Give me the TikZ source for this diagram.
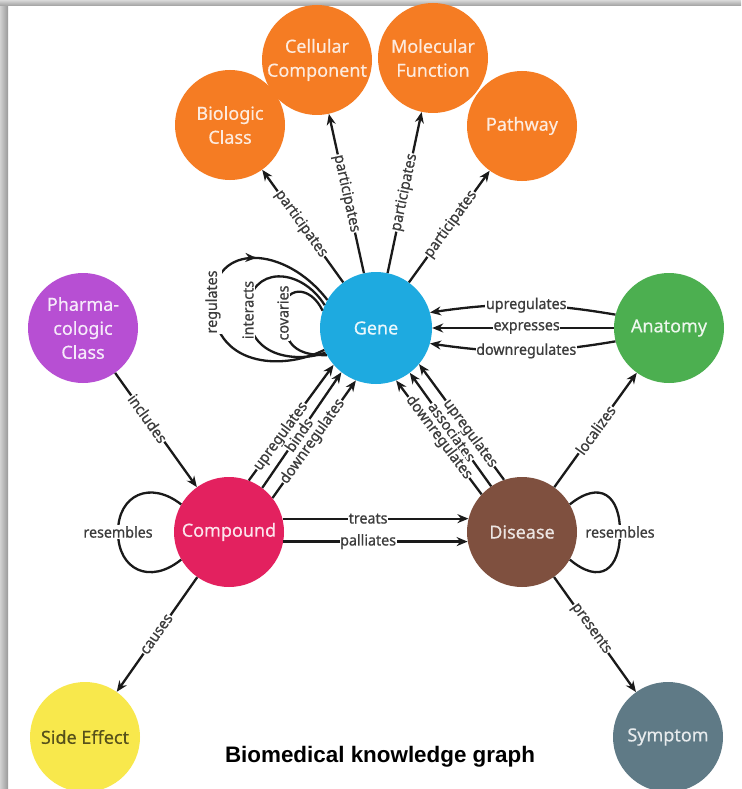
\documentclass[tikz,border=0pt]{standalone}
\usepackage{fontspec}
\setmainfont{Noto Sans}
\newfontfamily\entfont[FakeBold=0.4]{Noto Sans}
\newfontfamily\relfont[FakeBold=0.7,FakeStretch=0.95]{Noto Sans}
\newfontfamily\captionfont{Liberation Sans}
\usetikzlibrary{arrows.meta,decorations.markings}

\definecolor{cOrange}{HTML}{F57C23}
\definecolor{cGene}{HTML}{1EAAE0}
\definecolor{cPharma}{HTML}{B74FD3}
\definecolor{cAnat}{HTML}{4CAF50}
\definecolor{cComp}{HTML}{E3215F}
\definecolor{cDis}{HTML}{7F503F}
\definecolor{cSide}{HTML}{F8E84C}
\definecolor{cSymp}{HTML}{5F7A86}
\definecolor{cInk}{HTML}{1A1A1A}

\begin{document}
\begin{tikzpicture}[x=1pt,y=1pt,
  ent/.style={circle,minimum size=110pt,inner sep=0pt,align=center,
    font=\entfont\fontsize{18}{24}\selectfont},
  rel/.style={line width=2.3pt,draw=cInk,-{Stealth[length=11pt,width=9pt]}},
  plain/.style={line width=2.3pt,draw=cInk},
  lab/.style={fill=white,inner xsep=0.6pt,inner ysep=1pt,text=cInk!85,
    font=\relfont\fontsize{15}{15}\selectfont},
  midarrow/.style={postaction={decorate},decoration={markings,
    mark=at position #1 with {\arrow{Stealth[length=11pt,width=9pt]}}}},
]
% page and screen frame
\useasboundingbox (0,0) rectangle (741,-789);
\fill[white] (0,0) rectangle (741,-789);
\shade[left color=black!18,right color=black!40] (0,0) rectangle (8,-789);
\shade[top color=black!15,bottom color=black!38] (0,0) rectangle (741,-6);

% entities
\node[ent,fill=cOrange,text=white!85!cOrange] (bio)  at (230,-125) {Biologic\\Class};
\node[ent,fill=cOrange,text=white!85!cOrange] (cell) at (317,-60)  {Cellular\\Component};
\node[ent,fill=cOrange,text=white!85!cOrange] (mol)  at (433,-58)  {Molecular\\Function};
\node[ent,fill=cOrange,text=white!85!cOrange] (path) at (522,-126) {Pathway};
\node[ent,fill=cGene,text=white!90!cGene,minimum size=112pt] (gene) at (376,-328) {Gene};
\node[ent,fill=cPharma,text=white!88!cPharma] (pharma) at (83,-328) {Pharma-\\cologic\\Class};
\node[ent,fill=cAnat,text=white!90!cAnat] (anat) at (669,-328) {Anatomy};
\node[ent,fill=cComp,text=white!88!cComp] (comp) at (229,-532) {Compound};
\node[ent,fill=cDis,text=white!85!cDis] (dis) at (522,-532) {Disease};
\node[ent,fill=cSide,text=black!65!cSide] (side) at (85,-737) {Side Effect};
\node[ent,fill=cSymp,text=white!85!cSymp] (symp) at (668,-737) {Symptom};

% gene participates
\draw[rel] (gene) -- node[lab,sloped,pos=0.52]{participates} (bio);
\draw[rel] (gene) -- node[lab,sloped,pos=0.5]{participates} (cell);
\draw[rel] (gene) -- node[lab,sloped,pos=0.5]{participates} (mol);
\draw[rel] (gene) -- node[lab,sloped,pos=0.52]{participates} (path);

% gene self relations
\draw[plain,midarrow=0.72] (gene.203) .. controls (280,-372) and (213,-365) .. (213,-302)
  node[lab,rotate=90]{regulates}
  .. controls (213,-242) and (285,-245) .. (gene.150);
\draw[plain] (gene.206) .. controls (300,-362) and (248,-360) .. (248,-310)
  node[lab,rotate=90]{interacts}
  .. controls (250,-266) and (300,-266) .. (gene.156);
\draw[plain] (gene.209) .. controls (305,-355) and (283,-352) .. (283,-313)
  node[lab,rotate=90]{covaries}
  .. controls (283,-286) and (310,-284) .. (gene.162);

% anatomy to gene
\draw[rel] (anat.166) to[bend right=9] node[lab,pos=0.48]{upregulates} (gene.16);
\draw[rel] (anat.west) -- node[lab,pos=0.48]{expresses} (gene.east);
\draw[rel] (anat.194) to[bend left=9] node[lab,pos=0.48]{downregulates} (gene.-16);

% compound to gene
\draw[rel] (comp.69) -- node[lab,sloped,pos=0.38]{upregulates} (gene.221);
\draw[rel] (comp.53) -- node[lab,sloped,pos=0.46]{binds} (gene.232);
\draw[rel] (comp.38) -- node[lab,sloped,pos=0.48]{downregulates} (gene.249);

% disease to gene
\draw[rel] (dis.109) -- node[lab,sloped,pos=0.4]{upregulates} (gene.-40);
\draw[rel] (dis.124) -- node[lab,sloped,pos=0.48]{associates} (gene.-53);
\draw[rel] (dis.137) -- node[lab,sloped,pos=0.5]{downregulates} (gene.-69);

% remaining relations
\draw[rel] (pharma) -- node[lab,sloped,pos=0.4]{includes} (comp);
\draw[rel] (comp.14) -- node[lab,pos=0.46]{treats} (dis.166);
\draw[rel] (comp.-10) -- node[lab,pos=0.46]{palliates} (dis.190);
\draw[rel] (comp) -- node[lab,sloped,pos=0.5]{causes} (side);
\draw[rel] (dis) -- node[lab,sloped,pos=0.45]{presents} (symp);
\draw[rel] (dis) -- node[lab,sloped,pos=0.5]{localizes} (anat);

% resembles loops
\draw[plain] (comp.150) .. controls (150,-480) and (118,-495) .. (118,-532)
  node[lab]{resembles}
  .. controls (118,-570) and (150,-585) .. (comp.210);
\draw[plain] (dis.30) .. controls (600,-480) and (620,-495) .. (620,-532)
  node[lab]{resembles}
  .. controls (620,-570) and (600,-585) .. (dis.-30);

% caption
\node[font=\captionfont\bfseries\fontsize{22.4}{22.4}\selectfont,text=black] (title)
  at (380,-757) {Biomedical knowledge graph};
\end{tikzpicture}
\end{document}
